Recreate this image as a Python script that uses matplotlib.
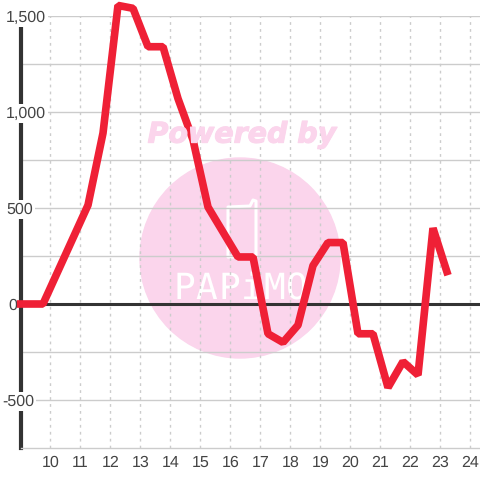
"""Hourly balance line chart with pale watermark."""

import matplotlib
matplotlib.use("Agg")
import matplotlib.pyplot as plt
import matplotlib.patheffects as pe
from matplotlib.patches import Circle, Polygon
from matplotlib.transforms import IdentityTransform

hours = [8.88, 9.25, 9.75, 11.25, 11.75, 12.25, 12.75, 13.25, 13.75, 14.25, 14.75,
         15.25, 15.75, 16.25, 16.75, 17.25, 17.75, 18.25, 18.75, 19.25, 19.75,
         20.25, 20.75, 21.25, 21.75, 22.25, 22.75, 23.25]
values = [0, 0, 0, 515, 890, 1555, 1540, 1340, 1340, 1070, 855,
          505, 375, 245, 245, -155, -200, -110, 200, 320, 320,
          -155, -155, -435, -300, -370, 395, 150]
x_ticks = list(range(10, 25))
y_ticks = [-500, 0, 500, 1000, 1500]
y_grid = [-500, -250, 0, 250, 500, 750, 1000, 1250, 1500]
y_labels = ["-500", "0", "500", "1,000", "1,500"]
y_label_left = [2, 8, 6, 6, 6]

RED = "#EF2036"
DARK = "#333333"
GRID = "#CCCCCC"
PINK = "#FBD5EC"
TEXT = "#444444"
W = 480
H = 480


def px(x, y):
    """Pixel position from the top left to display coordinates"""
    return x, H - y


plt.rcParams["font.family"] = ["Liberation Sans", "DejaVu Sans"]
plt.rcParams["text.hinting"] = "no_hinting"

fig = plt.figure(figsize=(4.8, 4.8), dpi=100)
ax = fig.add_axes([20.5 / W, (H - 448) / H, 459.5 / W, 432 / H])
ax.set_xlim(9, 24.317)
ax.set_ylim(-750, 1500)

# watermark
identity = IdentityTransform()
ax.add_patch(Circle(px(240, 258), 100, transform=identity, color=PINK, zorder=0, clip_on=False))
phone = [px(228, 207), px(250, 206), px(253, 200), px(256, 201), px(256, 257), px(228, 257)]
ax.add_patch(Polygon(phone, closed=True, transform=identity, fill=False, ec="white", lw=2.2,
                     joinstyle="round", zorder=0.5))
powered = fig.text(242 / W, (H - 135) / H, "Powered by", color=PINK, family="DejaVu Sans",
                   fontsize=20.5, fontweight="bold", fontstyle="oblique", ha="center", va="center", zorder=0)
powered.set_path_effects([pe.withStroke(linewidth=0.8, foreground=PINK)])
for i, letter in enumerate("PAPiMO"):
    ax.text(184 + i * 22.5, H - 289, letter, transform=identity, color="white",
            family="DejaVu Sans Mono", fontsize=26, ha="center", va="center", zorder=0.5)

ax.set_axisbelow(True)
ax.set_yticks(y_grid)
ax.set_xticks(x_ticks)
ax.grid(True, axis="y", color=GRID, linewidth=1, linestyle="-")
ax.grid(True, axis="x", color=GRID, linewidth=1, linestyle=(0, (2, 3)))
ax.tick_params(axis="both", length=0)
ax.tick_params(axis="y", labelleft=False)
ax.tick_params(axis="x", labelsize=11.5, labelcolor=TEXT, pad=5)

for side in ["top", "right"]:
    ax.spines[side].set_visible(False)
ax.spines["bottom"].set_color(GRID)
ax.spines["bottom"].set_linewidth(1)
ax.spines["left"].set_color(DARK)
ax.spines["left"].set_linewidth(3)

ax.axhline(0, color=DARK, linewidth=2.2, zorder=2.4)

# y labels sit on top of the axis line with a white box
for value, label, left in zip(y_ticks, y_labels, y_label_left):
    ax.annotate(label, xy=((left - 20.5) / 459.5, value), xycoords=ax.get_yaxis_transform(),
                xytext=(0, -1), textcoords="offset points",
                ha="left", va="center", fontsize=11.5, color=TEXT, zorder=3, annotation_clip=False,
                bbox=dict(facecolor="white", edgecolor="none", pad=1.5) if value != 0 else None)

ax.plot(hours, values, color=RED, linewidth=5.5, solid_joinstyle="bevel",
        solid_capstyle="butt", clip_on=False, zorder=4)

fig.savefig("out.png", dpi=100)
